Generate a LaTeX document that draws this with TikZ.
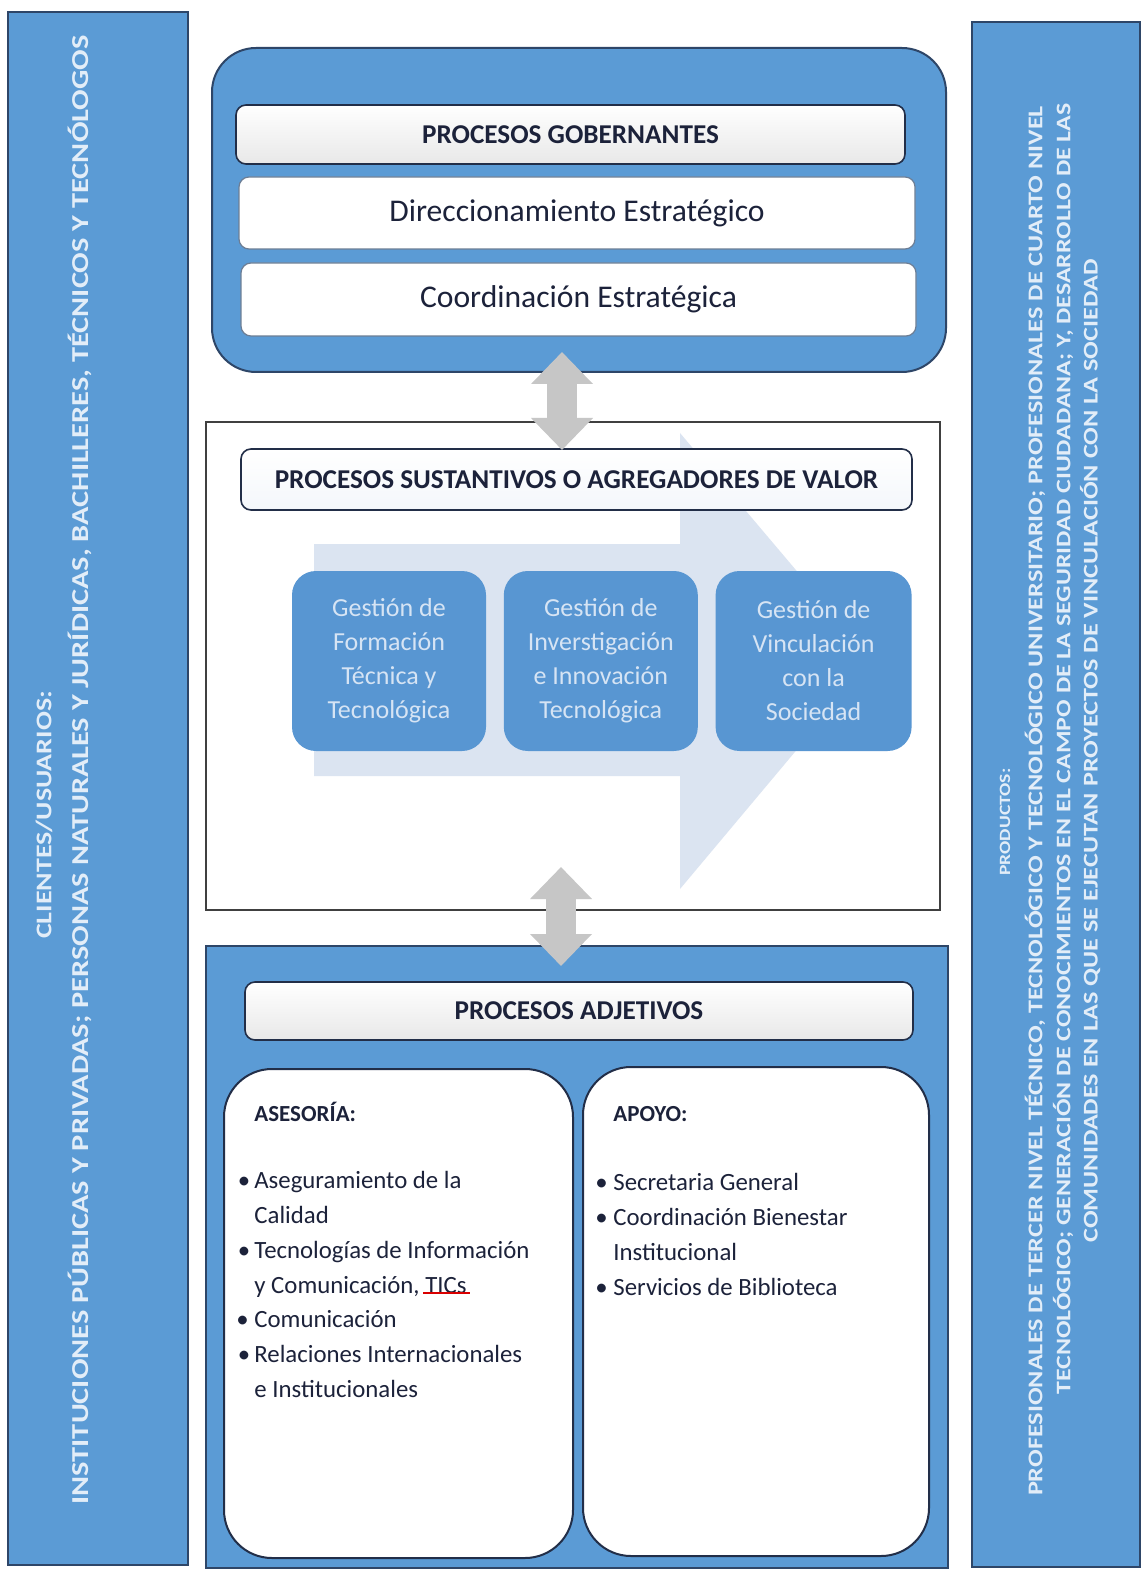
\documentclass[tikz,border=0pt]{standalone}
\usepackage{graphicx}
\usepackage{fontspec}
\setmainfont{Carlito}
\usetikzlibrary{arrows.meta}
\usetikzlibrary{positioning}
\definecolor{barblue}{RGB}{91,155,213}
\definecolor{procblue}{RGB}{88,150,210}
\definecolor{edgeblue}{RGB}{46,70,104}
\definecolor{edgedark}{RGB}{34,46,72}
\definecolor{inkdark}{RGB}{28,34,58}
\definecolor{sidetxt}{RGB}{226,237,248}
\definecolor{proctxt}{RGB}{214,228,244}
\definecolor{flowfill}{RGB}{219,228,241}
\definecolor{headblue}{RGB}{244,247,251}
\definecolor{arrowgray}{RGB}{198,198,198}
\newcommand{\squeeze}[1]{\scalebox{1}[0.8]{#1}}

\begin{document}
\begin{tikzpicture}[x=0.5pt,y=-0.5pt,
		sidebar/.style={draw=edgeblue,fill=barblue,line width=0.8pt,inner sep=0pt},
		sidetext/.style={text=sidetxt,font=\bfseries\fontsize{14pt}{17pt}\selectfont,rotate=90,inner sep=0pt},
		prodtext/.style={text=sidetxt,font=\bfseries\fontsize{13.1pt}{15pt}\selectfont,rotate=90,inner sep=0pt},
		outerbox/.style={draw=edgeblue,fill=barblue,line width=1pt,inner sep=0pt},
		midbox/.style={draw=black!75,fill=white,line width=1pt,inner sep=0pt},
		headbar/.style={draw=edgedark,top color=white,bottom color=black!9,rounded corners=5pt,line width=0.8pt,
			font=\bfseries\fontsize{13.6pt}{16pt}\selectfont,text=inkdark,inner sep=0pt},
		linebox/.style={draw=edgeblue!70,fill=white,rounded corners=5pt,line width=0.6pt,
			font=\fontsize{15.8pt}{19pt}\selectfont,text=inkdark,inner sep=0pt},
		procbox/.style={fill=procblue,rounded corners=12pt,text=proctxt,align=center,
			font=\fontsize{13pt}{17pt}\selectfont,inner sep=0pt,minimum width=97pt,minimum height=90pt},
		listbox/.style={draw=edgedark,fill=white,rounded corners=24pt,line width=1pt,inner sep=0pt},
		listhead/.style={font=\bfseries\fontsize{11.5pt}{14pt}\selectfont,text=inkdark,inner sep=0pt,anchor=west},
		listtext/.style={font=\fontsize{12.4pt}{17.4pt}\selectfont,text=inkdark,align=left,anchor=north west,inner sep=0pt},
		dblarrow/.style={draw=arrowgray,line width=15pt,{Triangle[length=16pt,width=30pt]}-{Triangle[length=16pt,width=30pt]}}
		]
		\fill[white] (0,0) rectangle (1147,1572);
		\useasboundingbox (0,0) rectangle (1147,1572);

		% clientes (left) and productos (right)
		\node (cli) [sidebar,minimum width=90pt,minimum height=776.5pt] at (98,788.5) {};
		\node (cli1) [sidetext] at (44,815) {\squeeze{CLIENTES/USUARIOS:}};
		\node (cli2) [sidetext,font=\bfseries\fontsize{15.2pt}{17pt}\selectfont] at (80,770) {\squeeze{INSTITUCIONES PÚBLICAS Y PRIVADAS; PERSONAS NATURALES Y JURÍDICAS, BACHILLERES, TÉCNICOS Y TECNÓLOGOS}};
		\node (prod) [sidebar,minimum width=84pt,minimum height=772.5pt] at (1056,794.5) {};
		\node (prod1) [prodtext,font=\bfseries\fontsize{9.8pt}{12pt}\selectfont] at (1005,822) {\squeeze{PRODUCTOS:}};
		\node (prod2) [prodtext] at (1035,801) {\squeeze{PROFESIONALES DE TERCER NIVEL TÉCNICO, TECNOLÓGICO Y TECNOLÓGICO UNIVERSITARIO; PROFESIONALES DE CUARTO NIVEL}};
		\node (prod3) [prodtext,font=\bfseries\fontsize{12.95pt}{15pt}\selectfont] at (1063,749) {\squeeze{TECNOLÓGICO; GENERACIÓN DE CONOCIMIENTOS EN EL CAMPO DE LA SEGURIDAD CIUDADANA; Y, DESARROLLO DE LAS}};
		\node (prod4) [prodtext] at (1090,751) {\squeeze{COMUNIDADES EN LAS QUE SE EJECUTAN PROYECTOS DE VINCULACIÓN CON LA SOCIEDAD}};

		% gobernantes
		\node (gob) [outerbox,rounded corners=22pt,minimum width=367pt,minimum height=162pt] at (579,210) {};
		\node (gobh) [headbar,minimum width=334.5pt,minimum height=29.5pt] at (570.5,134.5) {PROCESOS GOBERNANTES};
		\node (dir) [linebox,minimum width=338pt,minimum height=36pt] at (577,213) {Direccionamiento Estratégico};
		\node (coo) [linebox,minimum width=337.5pt,minimum height=36.5pt] at (578.5,299.5) {Coordinación Estratégica};

		% sustantivos
		\node (sus) [midbox,minimum width=367pt,minimum height=244pt] at (573,666) {};
		\fill[flowfill] (314,544) -- (680,544) -- (680,433) -- (872,660) -- (680,889) -- (680,776) -- (314,776) -- cycle;
		\node (sush) [headbar,top color=white,bottom color=headblue,minimum width=335.5pt,minimum height=30.5pt] at (576.5,479.5) {PROCESOS SUSTANTIVOS O AGREGADORES DE VALOR};
		\node (gf) [procbox] at (389,661) {Gestión de\\Formación\\Técnica y\\Tecnológica};
		\node (gi) [procbox,right=8.5pt of gf] {Gestión de\\Inverstigación\\e Innovación\\Tecnológica};
		\node (gv) [procbox,minimum width=98pt,right=8.5pt of gi] {Gestión de\\Vinculación\\con la\\Sociedad};

		% adjetivos
		\node (adj) [outerbox,minimum width=371pt,minimum height=311pt] at (577,1257) {};
		\node (adjh) [headbar,minimum width=334pt,minimum height=29pt] at (579,1011) {PROCESOS ADJETIVOS};
		\node (ase) [listbox,minimum width=174.5pt,minimum height=244.5pt] at (398.5,1313.5) {};
		\node (apo) [listbox,minimum width=173pt,minimum height=244.5pt] at (756,1311.5) {};
		\node (aseh) [listhead] at (254,1112) {ASESORÍA:};
		\node (apoh) [listhead] at (613,1114) {APOYO:};
		\node (asel) [listtext] at (254,1171) {\llap{•\,}Aseguramiento de la\\Calidad\\\llap{•\,}Tecnologías de Información\\y Comunicación, TICs\\\llap{• }Comunicación\\\llap{•\,}Relaciones Internacionales\\e Institucionales};
		\node (apol) [listtext] at (613,1173) {\llap{• }Secretaria General\\\llap{• }Coordinación Bienestar\\Institucional\\\llap{• }Servicios de Biblioteca};
		\draw[red!85!black,line width=0.6pt] (423,1293) -- (470,1293);

		% double arrows between levels
		\coordinate (a1t) at (562,352);
		\coordinate (a1b) at (562,450);
		\coordinate (a2t) at (561,867);
		\coordinate (a2b) at (561,966);
		\draw[dblarrow] (a1t) -- (a1b);
		\draw[dblarrow] (a2t) -- (a2b);
\end{tikzpicture}
\end{document}
